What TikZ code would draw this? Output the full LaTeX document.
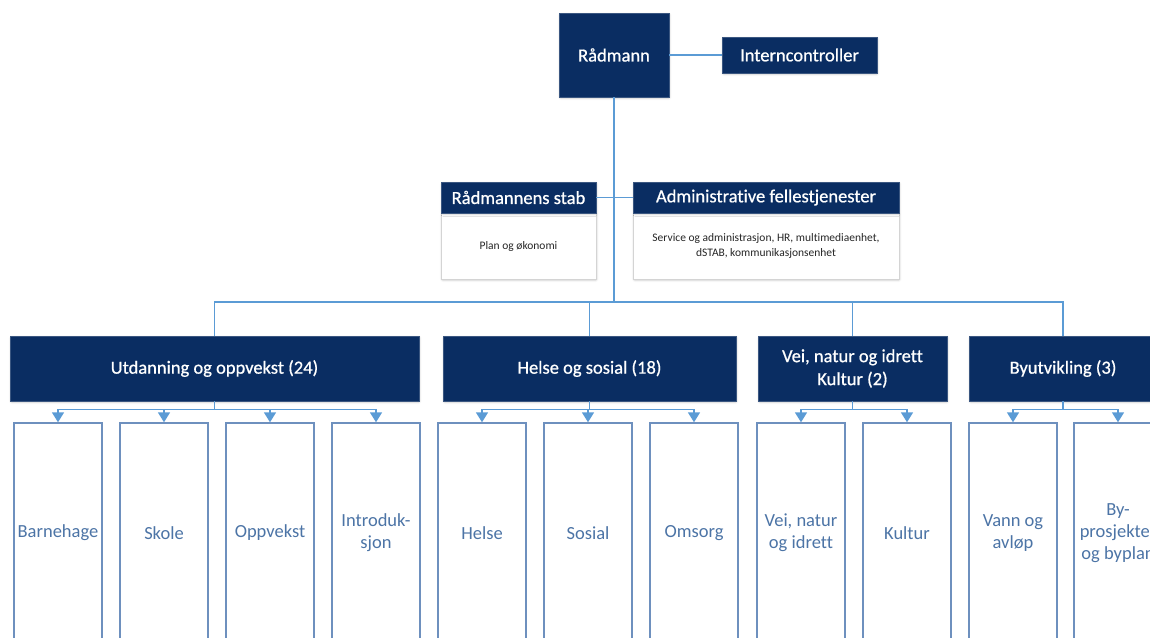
\documentclass[tikz,border=0pt]{standalone}
\usepackage{fontspec}
\setmainfont{Carlito}[Ligatures={NoCommon}]
\newfontfamily\whitefont{Carlito}[Ligatures={NoCommon},FakeBold=0.7]
\usetikzlibrary{arrows.meta,shadows.blur}
\definecolor{navy}{HTML}{0A2D62}
\definecolor{conn}{HTML}{5B9BD5}
\definecolor{subb}{HTML}{6E90BE}
\definecolor{subt}{HTML}{4C74A6}
\definecolor{staffb}{HTML}{D4D4D4}
\tikzset{
  shd/.style={blur shadow={shadow blur steps=4,shadow xshift=0.8pt,shadow yshift=-1.2pt,shadow opacity=22,shadow blur extra rounding=1pt}},
  darkbox/.style={fill=navy,draw=navy!80!white,line width=0.6pt,text=white,font=\whitefont\fontsize{18.5}{23}\selectfont,align=center,inner sep=0pt,shd},
  staffbody/.style={fill=white,draw=staffb,line width=0.8pt,text=black!85,font=\fontsize{11.5}{15}\selectfont,align=center,inner sep=0pt,shd},
  subbox/.style={fill=white,draw=subb,line width=1.4pt,text=subt,font=\fontsize{18.5}{22}\selectfont,align=center,inner sep=0pt,minimum width=88pt,minimum height=220pt},
  cline/.style={draw=conn,line width=1.5pt},
  carr/.style={draw=conn,line width=1.5pt,-{Triangle[width=12pt,length=10pt]}}
}
\begin{document}
\begin{tikzpicture}[x=1pt,y=-1pt]
\useasboundingbox (0,0) rectangle (1150,637);
\clip (0,0) rectangle (1150,637);
% top
\node[darkbox,minimum width=110pt,minimum height=84pt] (rad) at (614,55) {Rådmann};
\node[darkbox,minimum width=155pt,minimum height=36pt] (int) at (799.5,55) {Interncontroller};
% staff
\node[staffbody,minimum width=155pt,minimum height=66pt] (stabb) at (518.5,246) {Plan og økonomi};
\node[darkbox,minimum width=155pt,minimum height=31pt] (stabh) at (518.5,197.5) {Rådmannens stab};
\node[staffbody,minimum width=266pt,minimum height=66pt] (admb) at (766,246) {Service og administrasjon, HR, multimediaenhet,\\dSTAB, kommunikasjonsenhet};
\node[darkbox,minimum width=266pt,minimum height=31pt] (admh) at (766,197.5) {Administrative fellestjenester};
% departments
\node[darkbox,minimum width=409pt,minimum height=65pt] (utd) at (214.5,368.5) {Utdanning og oppvekst (24)};
\node[darkbox,minimum width=293pt,minimum height=65pt] (hel) at (589.5,368.5) {Helse og sosial (18)};
\node[darkbox,minimum width=189pt,minimum height=65pt] (vei) at (852.5,368.5) {Vei, natur og idrett\\Kultur (2)};
\node[darkbox,minimum width=188pt,minimum height=65pt] (byu) at (1063,368.5) {Byutvikling (3)};
% sub units
\node[subbox] (s1) at (58,533) {Barnehage};
\node[subbox] (s2) at (164,533) {Skole};
\node[subbox] (s3) at (270,533) {Oppvekst};
\node[subbox] (s4) at (376,533) {Introduk-\\sjon};
\node[subbox] (s5) at (482,533) {Helse};
\node[subbox] (s6) at (588,533) {Sosial};
\node[subbox] (s7) at (694,533) {Omsorg};
\node[subbox] (s8) at (801,533) {Vei, natur\\og idrett};
\node[subbox] (s9) at (907,533) {Kultur};
\node[subbox] (s10) at (1013,533) {Vann og\\avløp};
\node[subbox] (s11) at (1118,533) {By-\\prosjekter\\og byplan};
% connectors
\coordinate (bus) at (614,302);
\draw[cline] (rad.east) -- (int.west);
\draw[cline] (rad.south) -- (bus);
\draw[cline] (stabh.east) -- (admh.west);
\draw[cline] (utd.north) |- (bus) -| (byu.north);
\draw[cline] (hel.north) |- (bus);
\draw[cline] (vei.north) |- (bus);
\foreach \d/\s in {utd/s1,utd/s2,utd/s3,utd/s4,hel/s5,hel/s6,hel/s7,vei/s8,vei/s9,byu/s10,byu/s11}{
  \draw[carr] (\d.south) -- ++(0,8) -| (\s.north);
}
\end{tikzpicture}
\end{document}
